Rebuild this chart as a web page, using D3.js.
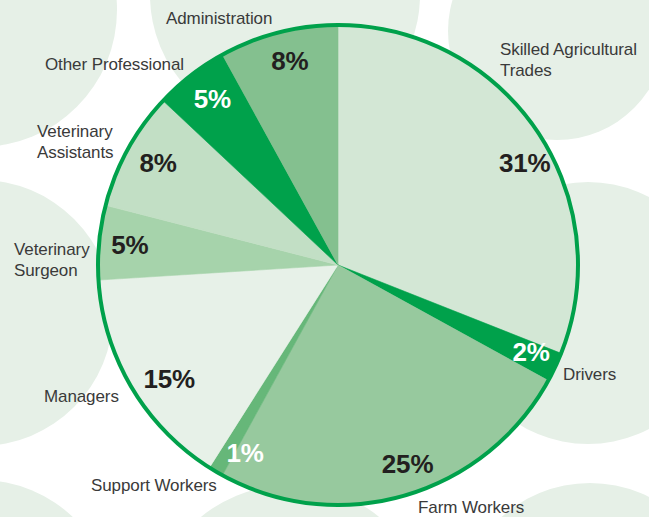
<!DOCTYPE html>
<html>
<head>
<meta charset="utf-8">
<script src="https://cdn.jsdelivr.net/npm/d3@7"></script>
<style>
  html, body { margin: 0; padding: 0; background: #ffffff; }
  svg { display: block; }
  .cat { font-family: "Liberation Sans", Arial, sans-serif; font-size: 17px; fill: #3a3a3a; letter-spacing: -0.1px; }
  .pct { font-family: "Liberation Sans", Arial, sans-serif; font-size: 26px; font-weight: bold; letter-spacing: -0.2px; }
</style>
</head>
<body>
<svg id="chart" width="649" height="517"></svg>
<script>
// ---- data ----
const categories = ["Skilled Agricultural Trades", "Drivers", "Farm Workers", "Support Workers", "Managers",
                    "Veterinary Surgeon", "Veterinary Assistants", "Other Professional", "Administration"];
const values = [31, 2, 25, 1, 15, 5, 8, 5, 8];
const pctLabels = ["31%", "2%", "25%", "1%", "15%", "5%", "8%", "5%", "8%"];
const labelLines = [["Skilled Agricultural", "Trades"], ["Drivers"], ["Farm Workers"], ["Support Workers"], ["Managers"],
                    ["Veterinary", "Surgeon"], ["Veterinary", "Assistants"], ["Other Professional"], ["Administration"]];

// ---- styling / layout ----
const sliceColors = ["#d3e7d5", "#00a14b", "#97c99e", "#66b779", "#e7f1e8", "#a6d3ab", "#c2dfc5", "#00a14b", "#84c08f"];
const pctColors = ["#231f20", "#ffffff", "#231f20", "#ffffff", "#231f20", "#231f20", "#231f20", "#ffffff", "#231f20"];
const catPos = [[500, 55], [563, 380], [418, 513], [91, 491], [44, 402], [14, 255], [37, 137], [45, 70], [166, 24]];
const pctNudge = [[13, 16], [3, -2], [11, -3], [14, 7], [12, 7], [1, 0], [4, -1], [3, 0], [4, -1]];
const bgCircles = [[-20, 10, 137], [285, -5, 135], [557, 31, 109], [-20, 313, 133], [588, 313, 131],
                   [-20, 615, 135], [290, 625, 140], [590, 615, 132]];

const svg = d3.select("#chart");
const cx = 338, cy = 265, R = 240;

svg.append("g").selectAll("circle").data(bgCircles).join("circle")
  .attr("cx", d => d[0]).attr("cy", d => d[1]).attr("r", d => d[2])
  .attr("fill", "#e6f0e7");

const pie = d3.pie().sort(null).value(d => d)(values);
const arc = d3.arc().innerRadius(0).outerRadius(R);
const labelArc = d3.arc().innerRadius(210).outerRadius(210);

const g = svg.append("g").attr("transform", `translate(${cx},${cy})`);
g.selectAll("path.slice").data(pie).join("path")
  .attr("class", "slice")
  .attr("d", arc)
  .attr("fill", (d, i) => sliceColors[i])
  .attr("stroke", (d, i) => sliceColors[i])
  .attr("stroke-width", 0.6);

g.append("circle").attr("r", R).attr("fill", "none").attr("stroke", "#00a14b").attr("stroke-width", 4);

g.selectAll("text.pct").data(pie).join("text")
  .attr("class", "pct")
  .attr("text-anchor", "middle")
  .attr("x", (d, i) => labelArc.centroid(d)[0] + pctNudge[i][0])
  .attr("y", (d, i) => labelArc.centroid(d)[1] + pctNudge[i][1] + 9)
  .attr("fill", (d, i) => pctColors[i])
  .text((d, i) => pctLabels[i]);

const cats = svg.append("g").selectAll("text.cat").data(categories).join("text")
  .attr("class", "cat")
  .attr("x", (d, i) => catPos[i][0])
  .attr("y", (d, i) => catPos[i][1]);
cats.each(function(d, i) {
  const t = d3.select(this);
  labelLines[i].forEach((line, j) => {
    t.append("tspan").attr("x", catPos[i][0]).attr("dy", j === 0 ? 0 : 21).text(line);
  });
});
</script>
</body>
</html>
